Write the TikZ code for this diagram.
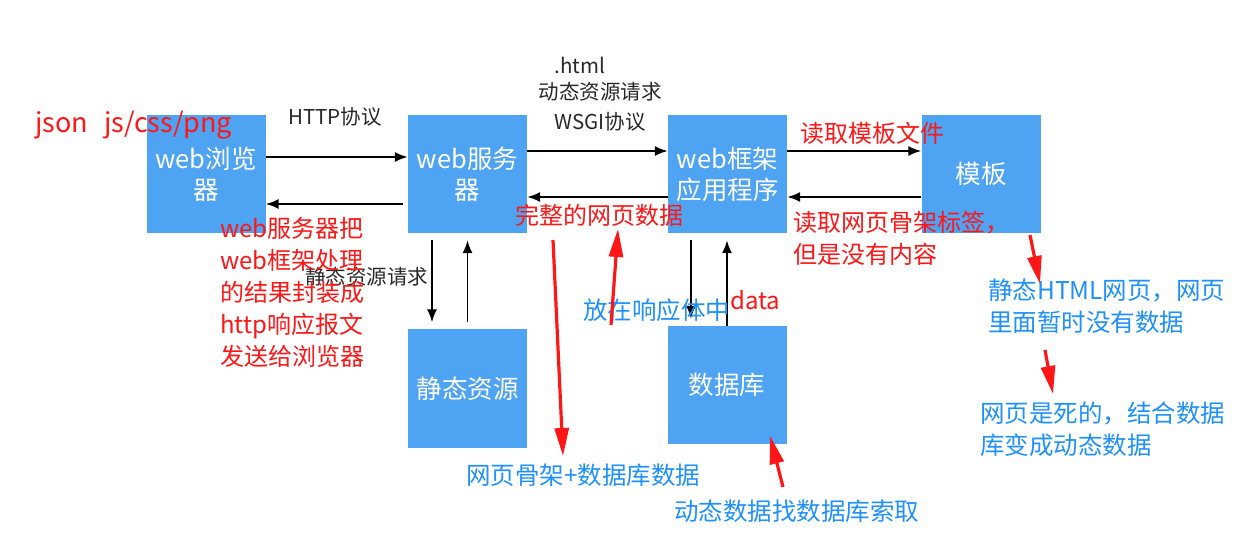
\documentclass[tikz,border=0pt]{standalone}
\usepackage{fontspec}
\usepackage{xcolor}
\usetikzlibrary{arrows.meta}
\newfontfamily\cjk{Noto Sans CJK SC}
\definecolor{boxblue}{RGB}{79,163,243}
\definecolor{noteblue}{RGB}{30,144,255}
\definecolor{notered}{RGB}{255,22,22}
\definecolor{labelgray}{RGB}{40,40,40}

\begin{document}
\begin{tikzpicture}[>={Latex[length=13pt,width=10pt]}, x=1pt, y=-1pt,
    block/.style={fill=boxblue, minimum width=119pt, minimum height=118pt, inner sep=0pt,
        text=white, align=center, font=\cjk\fontsize{25.5}{31}\selectfont},
    graytext/.style={text=labelgray, inner sep=0pt, font=\cjk\fontsize{20.5}{26}\selectfont},
    rednote/.style={text=notered, anchor=west, align=left, inner sep=0pt,
        font=\cjk\fontsize{24}{32}\selectfont},
    bluenote/.style={text=noteblue, anchor=west, align=left, inner sep=0pt,
        font=\cjk\fontsize{24.5}{32}\selectfont},
    link/.style={->, line width=1.8pt},
    vlink/.style={link, shorten <=7pt, shorten >=7pt},
    redarrow/.style={-{Triangle[length=28pt,width=14pt]}, notered, line width=3.2pt}]
    \useasboundingbox (0,0) rectangle (1242,534);

    % Boxes
    \node[block] (browser) at (206,174) {web浏览\\器};
    \node[block] (server) at (467.5,174) {web服务\\器};
    \node[block] (framework) at (727.5,174) {web框架\\应用程序};
    \node[block] (template) at (981,174) {模板};
    \node[block] (static) at (467.5,388.5) {静态资源};
    \node[block] (database) at (727,385) {数据库};

    % Protocol labels
    \node[graytext] (http) at (335,117) {HTTP协议};
    \node[graytext] (html) at (580,65) {.html};
    \node[graytext] (dynreq) at (600,92) {动态资源请求};
    \node[graytext] (wsgi) at (600,122) {WSGI协议};
    \node[graytext, anchor=west] (staticreq) at (305,277) {静态资源请求};

    % Connections between the boxes
    \draw[link] ([yshift=17pt]browser.east) -- ([yshift=17pt]server.west);
    \draw[link] ([yshift=-30pt,xshift=-5pt]server.west) -- ([yshift=-30pt]browser.east);
    \foreach \a/\b in {server/framework, framework/template}
    {
        \draw[link] ([yshift=23pt]\a.east) -- ([yshift=23pt]\b.west);
        \draw[link] ([yshift=-23pt]\b.west) -- ([yshift=-23pt]\a.east);
    }
    \draw[vlink] ([xshift=-35.5pt]server.south) -- ([xshift=-35.5pt]server.south |- static.north);
    \draw[vlink] (static.north) -- (static.north |- server.south);
    \draw[vlink] ([xshift=-36.5pt]framework.south) -- ([xshift=-36.5pt]framework.south |- database.north);
    \draw[link, shorten >=7pt] (database.north) -- (database.north |- framework.south);

    % Red notes
    \node[rednote, font=\cjk\fontsize{27}{32}\selectfont] (types) at (35,125) {json\hspace{0.6em}js/css/png};
    \node[rednote] (wrap) at (220,292) {web服务器把\\web框架处理\\的结果封装成\\http响应报文\\发送给浏览器};
    \node[rednote] (fullpage) at (515,215) {完整的网页数据};
    \node[rednote] (readtpl) at (800,133) {读取模板文件};
    \node[rednote] (readtags) at (793,238.5) {读取网页骨架标签，\\但是没有内容};
    \node[rednote] (data) at (730,300) {data};

    % Blue notes
    \node[bluenote] (body) at (583,310) {放在响应体中};
    \node[bluenote] (statichtml) at (988,306.5) {静态HTML网页，网页\\里面暂时没有数据};
    \node[bluenote] (deadpage) at (980,429) {网页是死的，结合数据\\库变成动态数据};
    \node[bluenote] (merge) at (466,475) {网页骨架+数据库数据};
    \node[bluenote] (fetch) at (674,511) {动态数据找数据库索取};

    % Red hand drawn arrows
    \coordinate (a1) at (553,240);
    \coordinate (b1) at (563,456);
    \coordinate (a2) at (611,325);
    \coordinate (b2) at (618,229);
    \coordinate (a3) at (1030,235);
    \coordinate (b3) at (1040,284);
    \coordinate (a4) at (1045,350);
    \coordinate (b4) at (1053,394);
    \coordinate (a5) at (783,487);
    \coordinate (b5) at (770,436);
    \foreach \i in {1,...,5}
    {
        \draw[redarrow] (a\i) -- (b\i);
    }
\end{tikzpicture}
\end{document}
